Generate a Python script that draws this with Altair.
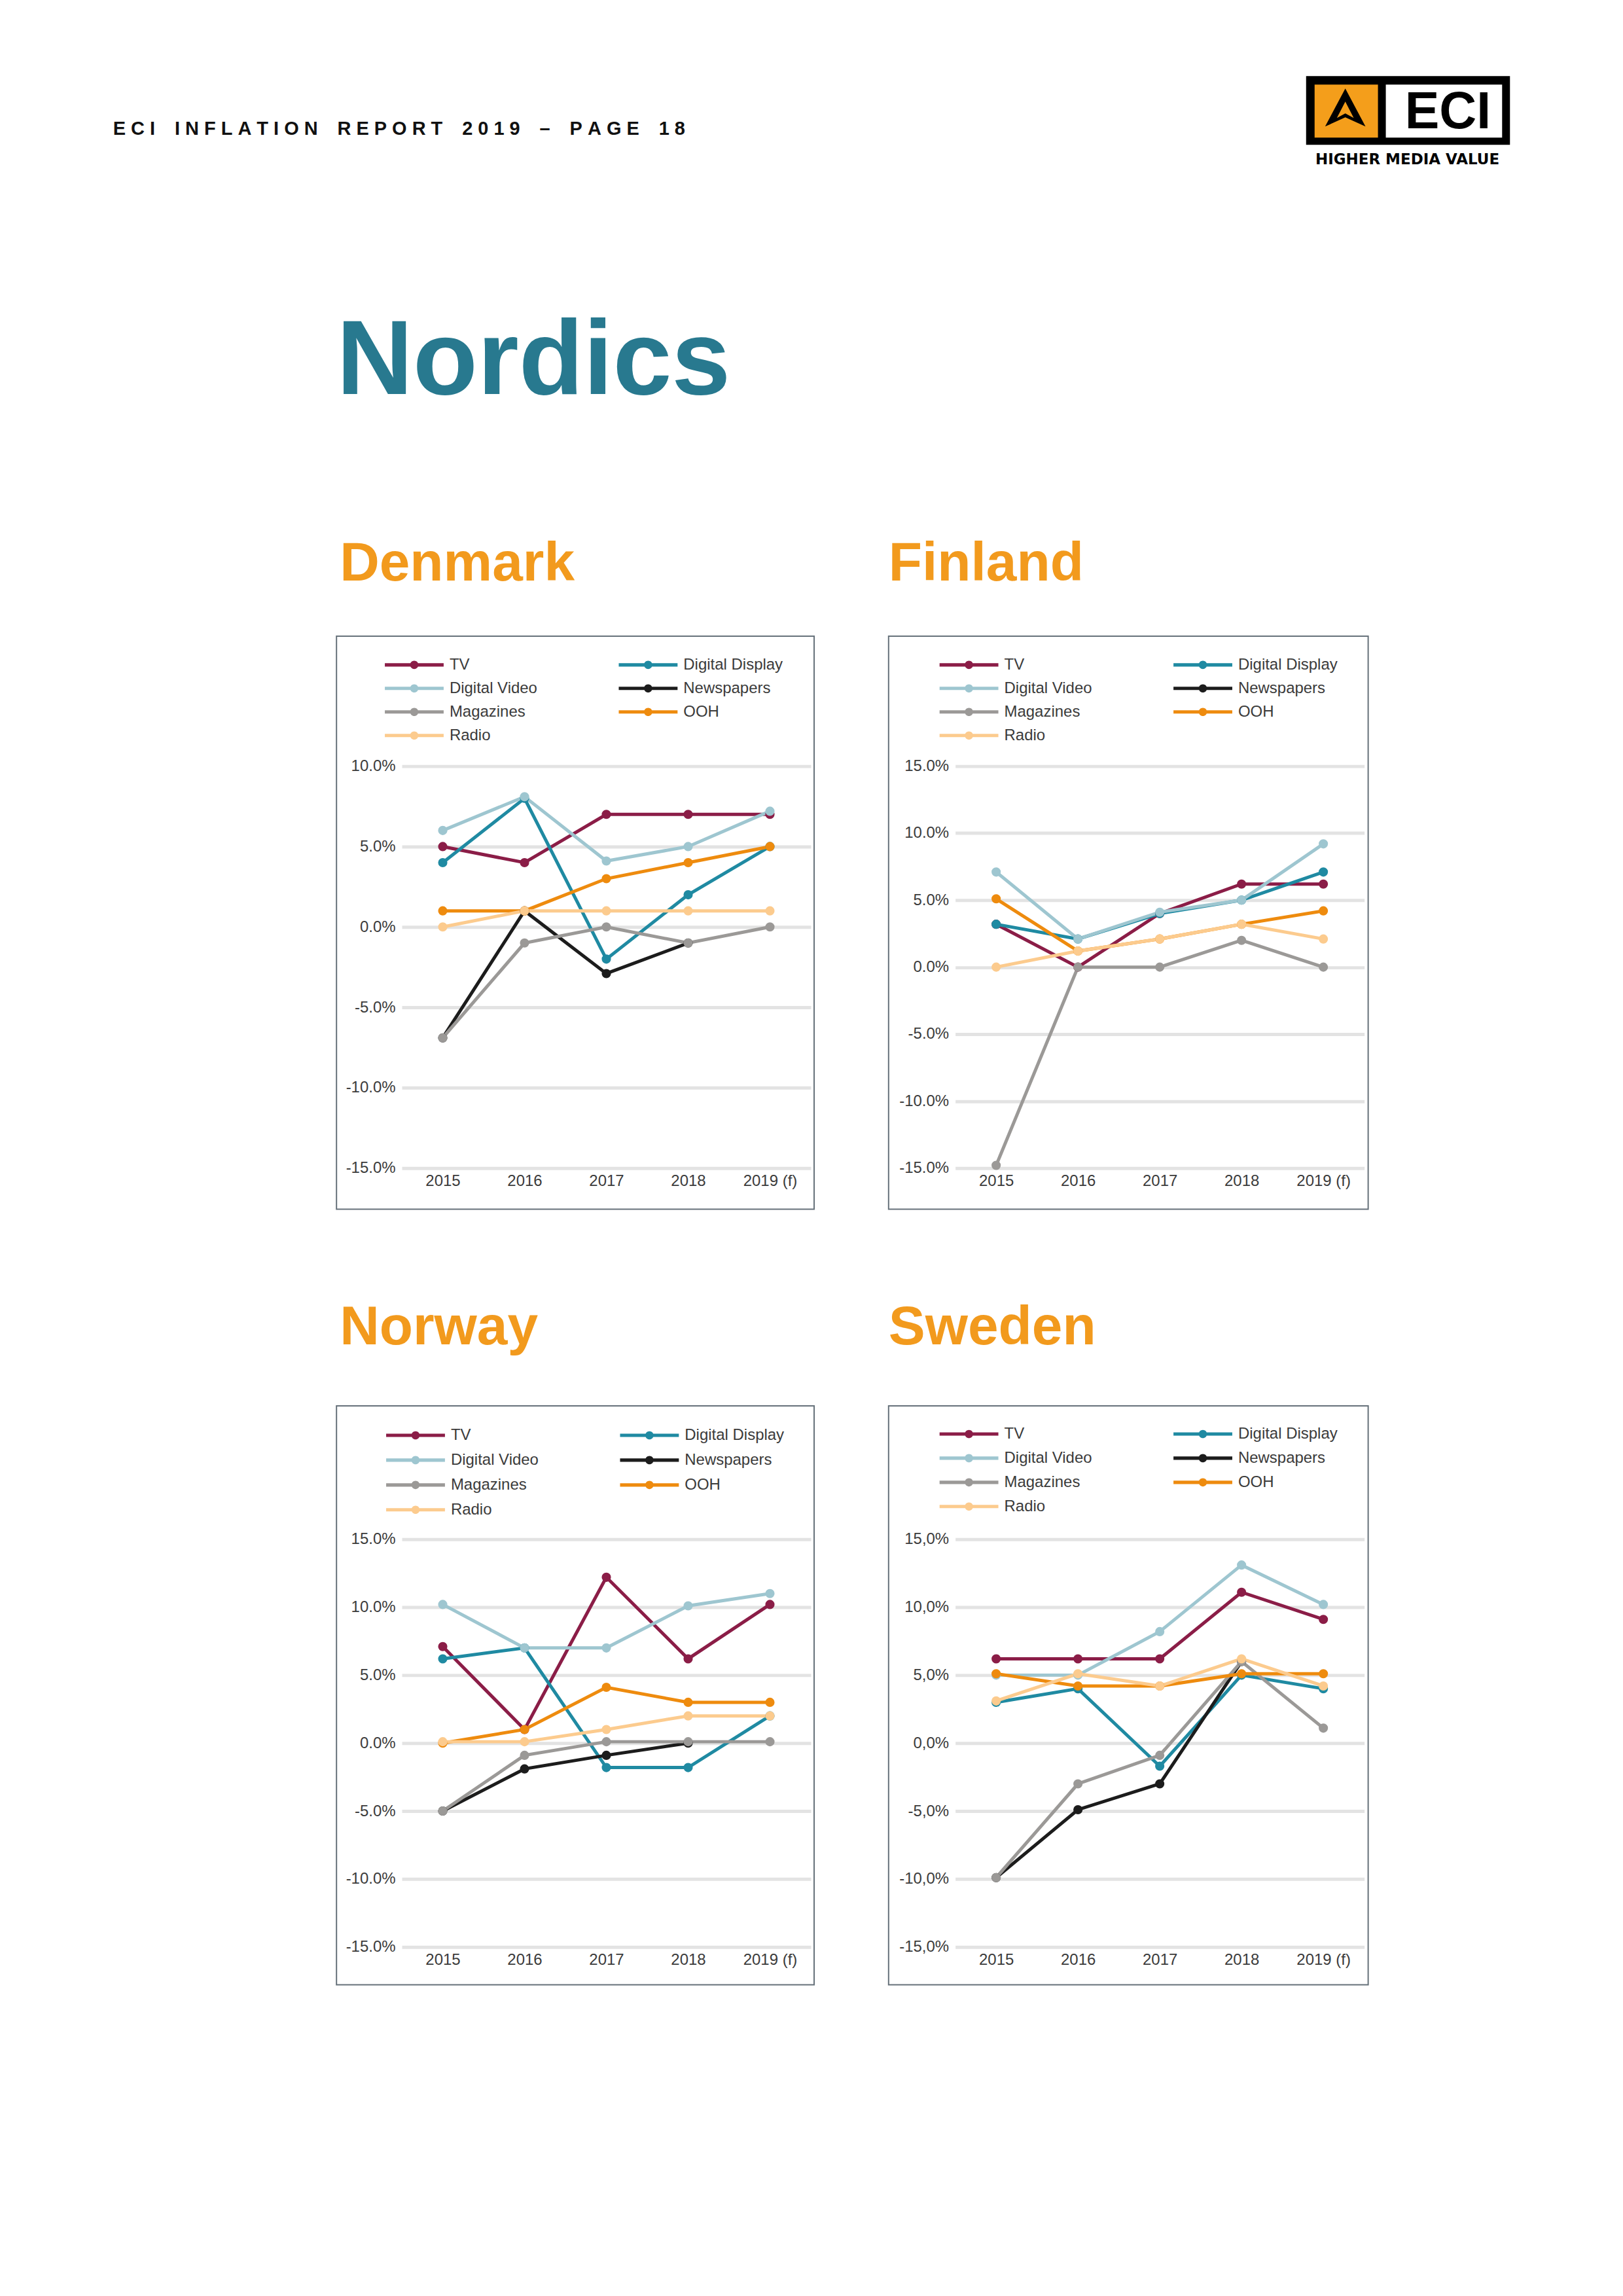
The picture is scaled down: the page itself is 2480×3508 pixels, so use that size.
import altair as alt
import pandas as pd

# ---------------- data ----------------
years = ["2015", "2016", "2017", "2018", "2019 (f)"]
# drawing order (first drawn at the bottom)
series = ["TV", "Digital Display", "Digital Video", "Newspapers", "Magazines", "OOH", "Radio"]
# legend order (two columns, filled column by column)
legend_order = ["TV", "Digital Video", "Magazines", "Radio", "Digital Display", "Newspapers", "OOH"]
legend_colors = ["#8B1D47", "#9EC6D0", "#9B9997", "#FCCB8E", "#1F8AA2", "#1C1C1C", "#EE8B0E"]

denmark = {
    "TV": [5.0, 4.0, 7.0, 7.0, 7.0],
    "Digital Display": [4.0, 8.0, -2.0, 2.0, 5.0],
    "Digital Video": [6.0, 8.1, 4.1, 5.0, 7.2],
    "Newspapers": [-6.9, 1.0, -2.9, -1.0, None],
    "Magazines": [-6.9, -1.0, 0.0, -1.0, 0.0],
    "OOH": [1.0, 1.0, 3.0, 4.0, 5.0],
    "Radio": [0.0, 1.0, 1.0, 1.0, 1.0],
}
finland = {
    "TV": [3.2, 0.0, 4.0, 6.2, 6.2],
    "Digital Display": [3.2, 2.1, 4.0, 5.0, 7.1],
    "Digital Video": [7.1, 2.1, 4.1, 5.0, 9.2],
    "Newspapers": [None, None, None, None, None],
    "Magazines": [-14.8, 0.0, 0.0, 2.0, 0.0],
    "OOH": [5.1, 1.2, 2.1, 3.2, 4.2],
    "Radio": [0.0, 1.2, 2.1, 3.2, 2.1],
}
norway = {
    "TV": [7.1, 1.0, 12.2, 6.2, 10.2],
    "Digital Display": [6.2, 7.0, -1.8, -1.8, 2.0],
    "Digital Video": [10.2, 7.0, 7.0, 10.1, 11.0],
    "Newspapers": [-5.0, -1.9, -0.9, 0.0, None],
    "Magazines": [-5.0, -0.9, 0.1, 0.1, 0.1],
    "OOH": [0.0, 1.0, 4.1, 3.0, 3.0],
    "Radio": [0.1, 0.1, 1.0, 2.0, 2.0],
}
sweden = {
    "TV": [6.2, 6.2, 6.2, 11.1, 9.1],
    "Digital Display": [3.0, 4.0, -1.7, 5.0, 4.0],
    "Digital Video": [5.0, 5.0, 8.2, 13.1, 10.2],
    "Newspapers": [-9.9, -4.9, -3.0, 6.0, None],
    "Magazines": [-9.9, -3.0, -0.9, 6.0, 1.1],
    "OOH": [5.1, 4.2, 4.2, 5.1, 5.1],
    "Radio": [3.1, 5.1, 4.2, 6.2, 4.2],
}

# ---------------- style ----------------
FONT = "Liberation Sans, Arial, Helvetica, sans-serif"
TEXT_COL = "#3b3b3b"
ORANGE = "#F29A1D"
TEAL = "#28798F"
PLOT_W = 626
LEG_PATH = ("M-1,-0.17L5,-0.17L5,0.17L-1,0.17Z "
            "M2.42,0A0.42,0.42,0,1,1,1.58,0A0.42,0.42,0,1,1,2.42,0Z")

dummy = pd.DataFrame({"k": [0]})


def panel(name, data, ymin, ymax, comma, plot_h, frame, box, title_pos, leg):
    rows = []
    for s in series:
        for yr, v in zip(years, data[s]):
            if v is not None:
                rows.append({"Year": yr, "Media": s, "Value": v})
    df = pd.DataFrame(rows)

    num = "format(abs(datum.value), '.1f')"
    if comma:
        num = "replace(" + num + ", '.', ',')"
    lab = "(datum.value < 0 ? '-' : '') + " + num + " + '%'"

    x = alt.X("Year:N", sort=years, title=None,
              scale=alt.Scale(type="point", padding=0.5),
              axis=alt.Axis(labelAngle=0, domain=False, ticks=False, grid=False,
                            labelFont=FONT, labelFontSize=24, labelColor=TEXT_COL,
                            labelPadding=8))
    y = alt.Y("Value:Q", title=None,
              scale=alt.Scale(domain=[ymin, ymax], nice=False, zero=False),
              axis=alt.Axis(values=list(range(ymin, ymax + 1, 5)), labelExpr=lab,
                            domain=False, ticks=False, grid=True,
                            gridColor="#E3E3E3", gridWidth=5,
                            labelFont=FONT, labelFontSize=24, labelColor=TEXT_COL,
                            labelPadding=10))
    cscale = alt.Scale(domain=legend_order, range=legend_colors)
    base = alt.Chart(df)
    lines = base.mark_line(strokeWidth=5).encode(
        x=x, y=y, stroke=alt.Stroke("Media:N", scale=cscale, legend=None))
    pts = base.mark_point(filled=True, size=200, opacity=1, strokeWidth=0).encode(
        x=x, y=y,
        color=alt.Color("Media:N", scale=cscale,
                        legend=alt.Legend(orient="none", legendX=leg[0], legendY=leg[1],
                                          columns=2, columnPadding=leg[2], rowPadding=leg[3],
                                          symbolType=LEG_PATH, symbolSize=900,
                                          symbolStrokeWidth=0, symbolOpacity=1,
                                          labelOffset=69, labelFont=FONT, labelFontSize=24,
                                          labelColor=TEXT_COL, title=None, padding=0)))
    frame_r = alt.Chart(dummy).mark_rect(fill="white", opacity=0).encode(
        x=alt.value(frame[0]), x2=alt.value(frame[1]),
        y=alt.value(frame[2]), y2=alt.value(frame[3]))
    box_r = alt.Chart(dummy).mark_rect(fill="transparent", stroke="#66717A", strokeWidth=2).encode(
        x=alt.value(box[0]), x2=alt.value(box[1]),
        y=alt.value(box[2]), y2=alt.value(box[3]))
    title = alt.Chart(dummy).mark_text(
        text=name, align="left", baseline="alphabetic", font=FONT, fontSize=84,
        fontWeight="bold", color=ORANGE).encode(
        x=alt.value(title_pos[0]), y=alt.value(title_pos[1]))
    return alt.layer(frame_r, box_r, lines, pts, title).properties(width=PLOT_W, height=plot_h)


dk = panel("Denmark", denmark, -15, 10, False, 615,
           (-606, 686, -459, 733), (-100, 631, -199, 678), (-95, -284), (-26, -170, 124, 9))
fi = panel("Finland", finland, -15, 15, False, 615,
           (-159, 1013, -459, 733), (-102, 632, -199, 678), (-102, -284), (-24, -170, 124, 9))
no = panel("Norway", norway, -15, 15, False, 624,
           (-606, 686, -448, 752), (-100, 631, -204, 682), (-95, -298), (-24, -174, 124, 11))
se = panel("Sweden", sweden, -15, 15, True, 624,
           (-159, 1013, -448, 752), (-102, 632, -204, 682), (-102, -298), (-24, -176, 124, 10))

# ---------------- header (origin at page x 614, y 8) ----------------
OX = 614
OY = 8
NB = "\u00a0"
TH = "\u2009"
words = ["ECI", "INFLATION", "REPORT", "2019", "\u2013", "PAGE", "18"]
header_txt = (NB * 3 + TH).join(NB.join(list(w)) for w in words)

hb = alt.Chart(dummy)
h_frame = hb.mark_rect(fill="white", opacity=0).encode(
    x=alt.value(8 - OX), x2=alt.value(2472 - OX), y=alt.value(0), y2=alt.value(700))
h_text = hb.mark_text(text=header_txt, align="left", baseline="middle",
                      font="Liberation Sans Narrow, Liberation Sans, Arial, sans-serif",
                      fontSize=29, fontWeight="bold", color="#111111").encode(
    x=alt.value(172 - OX), y=alt.value(194 - OY))
h_title = hb.mark_text(text="Nordics", align="left", baseline="alphabetic", font=FONT,
                       fontSize=162, fontWeight="bold", color=TEAL).encode(
    x=alt.value(514 - OX), y=alt.value(599 - OY))
logo_outer = hb.mark_rect(fill="#000000").encode(
    x=alt.value(1998 - OX), x2=alt.value(2310 - OX), y=alt.value(113 - OY), y2=alt.value(218 - OY))
logo_orange = hb.mark_rect(fill="#F49E1B").encode(
    x=alt.value(2011 - OX), x2=alt.value(2108 - OX), y=alt.value(126 - OY), y2=alt.value(207 - OY))
logo_white = hb.mark_rect(fill="#FFFFFF").encode(
    x=alt.value(2120 - OX), x2=alt.value(2298 - OX), y=alt.value(126 - OY), y2=alt.value(207 - OY))
arrow_out = hb.mark_point(shape="M0,-0.97L1.03,0.97L0,0.5L-1.03,0.97Z", filled=True,
                          size=3600, opacity=1, color="#000000", strokeWidth=0).encode(
    x=alt.value(2058 - OX), y=alt.value(161 - OY))
arrow_in = hb.mark_point(shape="M0,-0.3L0.43,0.53L0,0.3L-0.43,0.53Z", filled=True,
                         size=3600, opacity=1, color="#F49E1B", strokeWidth=0).encode(
    x=alt.value(2058 - OX), y=alt.value(161 - OY))
logo_eci = hb.mark_text(text="ECI", align="center", baseline="alphabetic", font=FONT,
                        fontSize=79, fontWeight="bold", color="#000000").encode(
    x=alt.value(2215 - OX), y=alt.value(193 - OY))
logo_sub = hb.mark_text(text="HIGHER MEDIA VALUE", align="center", baseline="alphabetic",
                        font="DejaVu Sans, sans-serif", fontSize=23, fontWeight="bold",
                        color="#000000").encode(x=alt.value(2153 - OX), y=alt.value(248 - OY))
header = alt.layer(h_frame, h_text, h_title, logo_outer, logo_orange, logo_white, arrow_out,
                   arrow_in, logo_eci, logo_sub).properties(width=PLOT_W, height=700)

row1 = alt.hconcat(dk, fi, spacing=0).resolve_scale(color="independent").resolve_legend(color="independent")
row2 = alt.hconcat(no, se, spacing=0).resolve_scale(color="independent").resolve_legend(color="independent")

chart = alt.vconcat(header, row1, row2, spacing=0).resolve_scale(
    color="independent").resolve_legend(color="independent").properties(
    padding=0, background="white").configure_view(stroke="transparent")

chart.save("out.html", embed_options={"renderer": "svg", "actions": False})
